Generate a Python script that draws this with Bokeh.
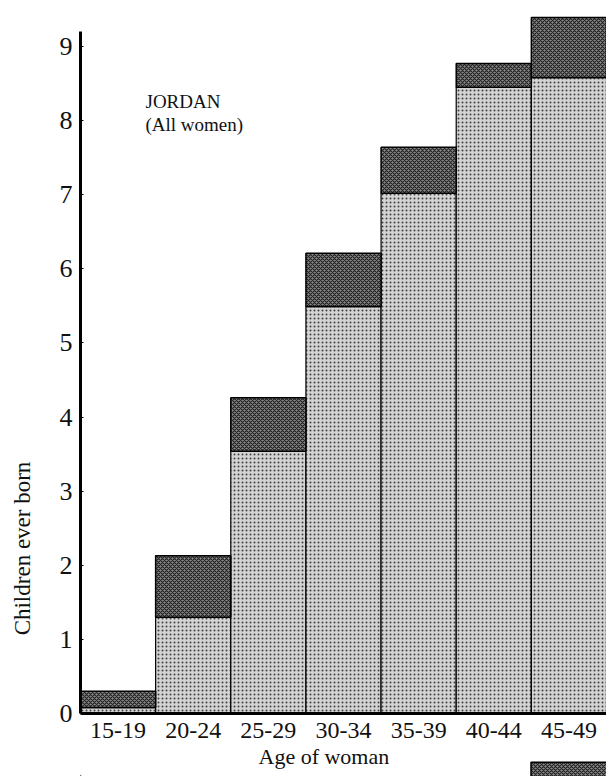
from bokeh.plotting import figure
from bokeh.layouts import column, row
from bokeh.models import (FactorRange, FixedTicker, Label, ColumnDataSource, Range1d,
                          Legend, LegendItem)
from bokeh.embed import file_html
from bokeh.resources import INLINE

ages = ["15-19", "20-24", "25-29", "30-34", "35-39", "40-44", "45-49"]
lower_part = [0.08, 1.30, 3.54, 5.49, 7.02, 8.45, 8.58]
total = [0.30, 2.13, 4.26, 6.21, 7.64, 8.77, 9.39]
y_ticks = [0, 1, 2, 3, 4, 5, 6, 7, 8, 9]

SERIF = "Liberation Serif"
INK = "#111111"
LIGHT = dict(fill_color="#d4d4d4", hatch_pattern="dot", hatch_color="#404040",
             hatch_scale=4, hatch_weight=1.3, line_color="black", line_width=1.2)
DARK = dict(fill_color="#8a8a8a", hatch_pattern="diagonal_cross", hatch_color="#222222",
            hatch_scale=4, hatch_weight=1.2, line_color="black", line_width=1.5)


def blank(w, h, xr, yr):
    f = figure(width=w, height=h, x_range=xr, y_range=yr,
               x_axis_type=None, y_axis_type=None, output_backend="svg",
               toolbar_location=None, min_border_left=0, min_border_right=0,
               min_border_top=0, min_border_bottom=0)
    f.outline_line_color = None
    f.grid.visible = False
    return f


src = ColumnDataSource(dict(age=ages, low=lower_part, tot=total, zero=[0] * len(ages)))

p = figure(x_range=FactorRange(factors=ages, range_padding=0),
           y_range=Range1d(0, 9.62),
           width=566, height=745, output_backend="svg", toolbar_location=None,
           min_border_left=40, min_border_right=0, min_border_top=0, min_border_bottom=32)
p.outline_line_color = None
p.grid.visible = False

p.vbar(x="age", bottom="zero", top="low", width=1, source=src, **LIGHT)
p.vbar(x="age", bottom="low", top="tot", width=1, source=src, **DARK)

p.yaxis.ticker = FixedTicker(ticks=y_ticks)
p.yaxis.bounds = (0, 9.2)
p.yaxis.axis_line_width = 3
p.yaxis.major_tick_in = 3
p.yaxis.major_tick_out = 0
p.yaxis.minor_tick_line_color = None
p.yaxis.major_label_text_font = SERIF
p.yaxis.major_label_text_font_size = "26px"
p.yaxis.major_label_text_color = INK
p.yaxis.major_label_standoff = 8

p.xaxis.axis_line_width = 3
p.xaxis.major_tick_line_color = None
p.xaxis.major_label_text_font = SERIF
p.xaxis.major_label_text_font_size = "24px"
p.xaxis.major_label_text_color = INK
p.xaxis.major_label_standoff = 3

p.add_layout(Label(x=0.865, y=8.12, text="JORDAN", text_font=SERIF,
                   text_font_size="19px", text_color=INK))
p.add_layout(Label(x=0.865, y=7.81, text="(All women)", text_font=SERIF,
                   text_font_size="19px", text_color=INK))

# left strip: y-axis title
side = blank(40, 776, Range1d(0, 40), Range1d(0, 776))
side.add_layout(Label(x=22, y=228, text="Children ever born", text_font=SERIF,
                      text_font_size="23px", text_color=INK, angle=1.5708,
                      text_align="center", text_baseline="middle"))

# bottom strip (frame aligned with the chart frame): x-axis title and cut-off legend key
foot = blank(566, 31, Range1d(0, 526), Range1d(0, 31))
key = foot.vbar(x=[-1000], bottom=[0], top=[1], width=1, **DARK)
foot.add_layout(Label(x=178, y=20, text="Age of woman", text_font=SERIF,
                      text_font_size="22px", text_color=INK, text_baseline="middle"))
foot.add_layout(Legend(items=[LegendItem(label=" ", renderers=[key])],
                       location=(441, -2), glyph_width=95, glyph_height=18,
                       padding=0, margin=0, spacing=0, label_width=0, label_height=18,
                       label_standoff=0, border_line_color=None, background_fill_alpha=0,
                       label_text_font_size="1px"))

open("out.html", "w").write(file_html(row(side, column(p, foot, spacing=0), spacing=0), INLINE))
